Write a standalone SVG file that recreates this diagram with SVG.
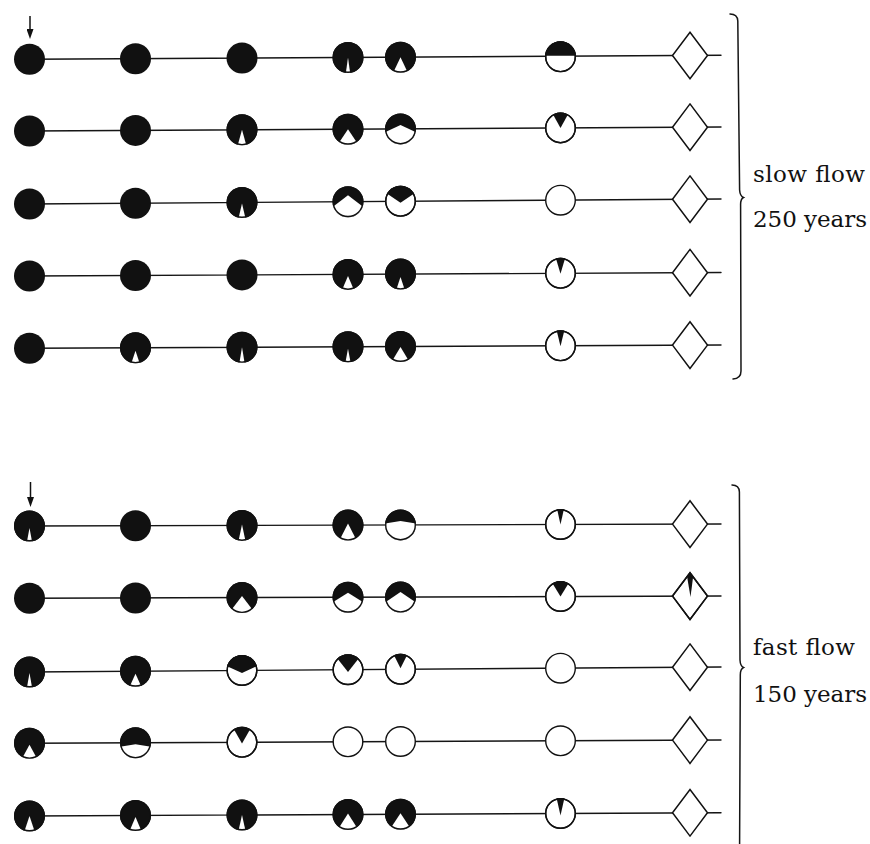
<svg xmlns="http://www.w3.org/2000/svg" width="870" height="844" viewBox="0 0 870 844">
<defs>
  <!-- disc used to trim the dark/light sectors inside each stage circle -->
  <clipPath id="disc"><circle r="15.5"/></clipPath>
  <clipPath id="lozenge"><polygon points="0,-23.3 17.5,0 0,23.3 -17.5,0"/></clipPath>
  <marker id="tip" viewBox="0 0 10 7" refX="0" refY="3.5" markerWidth="10" markerHeight="7" markerUnits="userSpaceOnUse" orient="auto">
    <path d="M0,0 L10,3.5 L0,7Z" fill="#111"/>
  </marker>
</defs>
<style>
  .wire{fill:none;stroke:#151515;stroke-width:1.4;stroke-linecap:round}
  .full{fill:#111}
  .open{fill:#fff;stroke:#111;stroke-width:1.4}
  .ink{fill:#111}
  .gap{fill:#fff}
  .edge{fill:none;stroke:#111;stroke-width:1.4}
  .dia{fill:#fff;stroke:#111;stroke-width:1.5}
  .diaedge{fill:none;stroke:#111;stroke-width:1.5}
  .brace{fill:none;stroke:#151515;stroke-width:1.5;stroke-linecap:round}
  .lbl{font-family:"DejaVu Serif","Liberation Serif",serif;font-size:23px;fill:#111}
  .arrow{stroke:#111;stroke-width:1.5;marker-end:url(#tip)}
</style>
<rect width="870" height="844" fill="#fff"/>

<!-- connectors: one straight line per sequence, plus the two start arrows -->
<g id="connectors">
  <line class="wire" x1="29.5" y1="59.3" x2="721" y2="55.3"/>
  <line class="wire" x1="29.5" y1="131" x2="721" y2="127"/>
  <line class="wire" x1="29.5" y1="204" x2="721" y2="199"/>
  <line class="wire" x1="29.5" y1="276" x2="721" y2="272.5"/>
  <line class="wire" x1="29.5" y1="348.3" x2="721" y2="345"/>
  <line class="wire" x1="29.5" y1="526" x2="721" y2="524"/>
  <line class="wire" x1="29.5" y1="598.3" x2="721" y2="596"/>
  <line class="wire" x1="29.5" y1="672" x2="721" y2="667"/>
  <line class="wire" x1="29.5" y1="743.3" x2="721" y2="740"/>
  <line class="wire" x1="29.5" y1="816" x2="721" y2="812.7"/>
  <line class="arrow" x1="30" y1="16" x2="30" y2="29"/>
  <line class="arrow" x1="30.5" y1="482" x2="30.5" y2="497"/>
</g>

<!-- slow flow, sequence 1 -->
<g id="slow1-a" transform="translate(29.5,59.3)"><circle class="full" r="15.5"/></g>
<g id="slow1-b" transform="translate(135.5,58.7)"><circle class="full" r="15.5"/></g>
<g id="slow1-c" transform="translate(242,58.1)"><circle class="full" r="15.5"/></g>
<g id="slow1-d" transform="translate(348,57.5)"><circle class="full" r="15.5"/><path class="gap" clip-path="url(#disc)" d="M-2.5 18L0 0L2.5 18Z"/><circle class="edge" r="14.8"/></g>
<g id="slow1-e" transform="translate(400.5,57.2)"><circle class="full" r="15.5"/><path class="gap" clip-path="url(#disc)" d="M-8.5 18L0 0L8.5 18Z"/><circle class="edge" r="14.8"/></g>
<g id="slow1-f" transform="translate(560.5,56.8)"><circle class="open" r="14.8"/><path class="ink" clip-path="url(#disc)" d="M-18 -18H18V-1H-18Z"/><circle class="edge" r="14.8"/></g>
<g id="slow1-end" transform="translate(690,55.5)"><polygon class="dia" points="0,-23.3 17.5,0 0,23.3 -17.5,0"/></g>

<!-- slow flow, sequence 2 -->
<g id="slow2-a" transform="translate(29.5,131)"><circle class="full" r="15.5"/></g>
<g id="slow2-b" transform="translate(135.5,130.4)"><circle class="full" r="15.5"/></g>
<g id="slow2-c" transform="translate(242,129.8)"><circle class="full" r="15.5"/><path class="gap" clip-path="url(#disc)" d="M-5 18L0 0L5 18Z"/><circle class="edge" r="14.8"/></g>
<g id="slow2-d" transform="translate(348,129.2)"><circle class="full" r="15.5"/><path class="gap" clip-path="url(#disc)" d="M-12 18L0 0L12 18Z"/><circle class="edge" r="14.8"/></g>
<g id="slow2-e" transform="translate(400.5,128.9)"><circle class="full" r="15.5"/><path class="gap" clip-path="url(#disc)" d="M-46 18L0 -4L46 18Z"/><circle class="edge" r="14.8"/></g>
<g id="slow2-f" transform="translate(560.5,127.9)"><circle class="open" r="14.8"/><path class="ink" clip-path="url(#disc)" d="M-10 -18L0 0L10 -18Z"/><circle class="edge" r="14.8"/></g>
<g id="slow2-end" transform="translate(690,127.2)"><polygon class="dia" points="0,-23.3 17.5,0 0,23.3 -17.5,0"/></g>

<!-- slow flow, sequence 3 -->
<g id="slow3-a" transform="translate(29.5,204)"><circle class="full" r="15.5"/></g>
<g id="slow3-b" transform="translate(135.5,203.2)"><circle class="full" r="15.5"/></g>
<g id="slow3-c" transform="translate(242,202.5)"><circle class="full" r="15.5"/><path class="gap" clip-path="url(#disc)" d="M-4 18L0 1L4 18Z"/><circle class="edge" r="14.8"/></g>
<g id="slow3-d" transform="translate(348,201.7)"><circle class="full" r="15.5"/><path class="gap" clip-path="url(#disc)" d="M-32 18L0 -6.5L32 18Z"/><circle class="edge" r="14.8"/></g>
<g id="slow3-e" transform="translate(400.5,201.3)"><circle class="open" r="14.8"/><path class="ink" clip-path="url(#disc)" d="M-28.5 -18L0 1.5L28.5 -18Z"/><circle class="edge" r="14.8"/></g>
<g id="slow3-f" transform="translate(560.5,200.2)"><circle class="open" r="14.8"/></g>
<g id="slow3-end" transform="translate(690,199.2)"><polygon class="dia" points="0,-23.3 17.5,0 0,23.3 -17.5,0"/></g>

<!-- slow flow, sequence 4 -->
<g id="slow4-a" transform="translate(29.5,276)"><circle class="full" r="15.5"/></g>
<g id="slow4-b" transform="translate(135.5,275.5)"><circle class="full" r="15.5"/></g>
<g id="slow4-c" transform="translate(242,274.9)"><circle class="full" r="15.5"/></g>
<g id="slow4-d" transform="translate(348,274.4)"><circle class="full" r="15.5"/><path class="gap" clip-path="url(#disc)" d="M-7 18L0 1.5L7 18Z"/><circle class="edge" r="14.8"/></g>
<g id="slow4-e" transform="translate(400.5,274.1)"><circle class="full" r="15.5"/><path class="gap" clip-path="url(#disc)" d="M-5 18L0 3L5 18Z"/><circle class="edge" r="14.8"/></g>
<g id="slow4-f" transform="translate(560.5,273.3)"><circle class="open" r="14.8"/><path class="ink" clip-path="url(#disc)" d="M-5.5 -18L0 0.5L5.5 -18Z"/><circle class="edge" r="14.8"/></g>
<g id="slow4-end" transform="translate(690,272.7)"><polygon class="dia" points="0,-23.3 17.5,0 0,23.3 -17.5,0"/></g>

<!-- slow flow, sequence 5 -->
<g id="slow5-a" transform="translate(29.5,348.3)"><circle class="full" r="15.5"/></g>
<g id="slow5-b" transform="translate(135.5,347.8)"><circle class="full" r="15.5"/><path class="gap" clip-path="url(#disc)" d="M-5 18L0 3L5 18Z"/><circle class="edge" r="14.8"/></g>
<g id="slow5-c" transform="translate(242,347.3)"><circle class="full" r="15.5"/><path class="gap" clip-path="url(#disc)" d="M-3 18L0 0L3 18Z"/><circle class="edge" r="14.8"/></g>
<g id="slow5-d" transform="translate(348,346.8)"><circle class="full" r="15.5"/><path class="gap" clip-path="url(#disc)" d="M-3 18L0 2L3 18Z"/><circle class="edge" r="14.8"/></g>
<g id="slow5-e" transform="translate(400.5,346.5)"><circle class="full" r="15.5"/><path class="gap" clip-path="url(#disc)" d="M-10.5 18L0 0.5L10.5 18Z"/><circle class="edge" r="14.8"/></g>
<g id="slow5-f" transform="translate(560.5,345.8)"><circle class="open" r="14.8"/><path class="ink" clip-path="url(#disc)" d="M-4.5 -18L0 0.5L4.5 -18Z"/><circle class="edge" r="14.8"/></g>
<g id="slow5-end" transform="translate(690,345.1)"><polygon class="dia" points="0,-23.3 17.5,0 0,23.3 -17.5,0"/></g>

<!-- fast flow, sequence 1 -->
<g id="fast1-a" transform="translate(29.5,526)"><circle class="full" r="15.5"/><path class="gap" clip-path="url(#disc)" d="M-3 18L0 2L3 18Z"/><circle class="edge" r="14.8"/></g>
<g id="fast1-b" transform="translate(135.5,525.7)"><circle class="full" r="15.5"/></g>
<g id="fast1-c" transform="translate(242,525.4)"><circle class="full" r="15.5"/><path class="gap" clip-path="url(#disc)" d="M-4 18L0 -1L4 18Z"/><circle class="edge" r="14.8"/></g>
<g id="fast1-d" transform="translate(348,525.1)"><circle class="full" r="15.5"/><path class="gap" clip-path="url(#disc)" d="M-10 18L0 -1.5L10 18Z"/><circle class="edge" r="14.8"/></g>
<g id="fast1-e" transform="translate(400.5,524.9)"><circle class="full" r="15.5"/><path class="gap" clip-path="url(#disc)" d="M-130 18L0 -4L130 18Z"/><circle class="edge" r="14.8"/></g>
<g id="fast1-f" transform="translate(560.5,524.5)"><circle class="open" r="14.8"/><path class="ink" clip-path="url(#disc)" d="M-4 -18L0 0L4 -18Z"/><circle class="edge" r="14.8"/></g>
<g id="fast1-end" transform="translate(690,524.1)"><polygon class="dia" points="0,-23.3 17.5,0 0,23.3 -17.5,0"/></g>

<!-- fast flow, sequence 2 -->
<g id="fast2-a" transform="translate(29.5,598.3)"><circle class="full" r="15.5"/></g>
<g id="fast2-b" transform="translate(135.5,598)"><circle class="full" r="15.5"/></g>
<g id="fast2-c" transform="translate(242,597.6)"><circle class="full" r="15.5"/><path class="gap" clip-path="url(#disc)" d="M-15 18L0 -1.5L15 18Z"/><circle class="edge" r="14.8"/></g>
<g id="fast2-d" transform="translate(348,597.2)"><circle class="full" r="15.5"/><path class="gap" clip-path="url(#disc)" d="M-36 18L0 -4.5L36 18Z"/><circle class="edge" r="14.8"/></g>
<g id="fast2-e" transform="translate(400.5,597.1)"><circle class="full" r="15.5"/><path class="gap" clip-path="url(#disc)" d="M-34 18L0 -5L34 18Z"/><circle class="edge" r="14.8"/></g>
<g id="fast2-f" transform="translate(560.5,596.5)"><circle class="open" r="14.8"/><path class="ink" clip-path="url(#disc)" d="M-11 -18L0 0L11 -18Z"/><circle class="edge" r="14.8"/></g>
<g id="fast2-end" transform="translate(690,596.1)"><polygon class="dia" points="0,-23.3 17.5,0 0,23.3 -17.5,0"/><path class="ink" clip-path="url(#lozenge)" d="M-4 -26L0.5 1L4 -26Z"/><polygon class="diaedge" points="0,-23.3 17.5,0 0,23.3 -17.5,0"/></g>

<!-- fast flow, sequence 3 -->
<g id="fast3-a" transform="translate(29.5,672)"><circle class="full" r="15.5"/><path class="gap" clip-path="url(#disc)" d="M-3 18L0 1L3 18Z"/><circle class="edge" r="14.8"/></g>
<g id="fast3-b" transform="translate(135.5,671.2)"><circle class="full" r="15.5"/><path class="gap" clip-path="url(#disc)" d="M-7 18L0 2.5L7 18Z"/><circle class="edge" r="14.8"/></g>
<g id="fast3-c" transform="translate(242,670.5)"><circle class="open" r="14.8"/><path class="ink" clip-path="url(#disc)" d="M-45 -18L0 2.5L45 -18Z"/><circle class="edge" r="14.8"/></g>
<g id="fast3-d" transform="translate(348,669.7)"><circle class="open" r="14.8"/><path class="ink" clip-path="url(#disc)" d="M-16 -18L0 2.3L16 -18Z"/><circle class="edge" r="14.8"/></g>
<g id="fast3-e" transform="translate(400.5,669.3)"><circle class="open" r="14.8"/><path class="ink" clip-path="url(#disc)" d="M-8.5 -18L0 -1L8.5 -18Z"/><circle class="edge" r="14.8"/></g>
<g id="fast3-f" transform="translate(560.5,668.2)"><circle class="open" r="14.8"/></g>
<g id="fast3-end" transform="translate(690,667.2)"><polygon class="dia" points="0,-23.3 17.5,0 0,23.3 -17.5,0"/></g>

<!-- fast flow, sequence 4 -->
<g id="fast4-a" transform="translate(29.5,743.3)"><circle class="full" r="15.5"/><path class="gap" clip-path="url(#disc)" d="M-9 18L0 1.5L9 18Z"/><circle class="edge" r="14.8"/></g>
<g id="fast4-b" transform="translate(135.5,742.8)"><circle class="full" r="15.5"/><path class="gap" clip-path="url(#disc)" d="M-105 18L0 1.5L105 18Z"/><circle class="edge" r="14.8"/></g>
<g id="fast4-c" transform="translate(242,742.3)"><circle class="open" r="14.8"/><path class="ink" clip-path="url(#disc)" d="M-11 -18L0 1.3L11 -18Z"/><circle class="edge" r="14.8"/></g>
<g id="fast4-d" transform="translate(348,741.8)"><circle class="open" r="14.8"/></g>
<g id="fast4-e" transform="translate(400.5,741.5)"><circle class="open" r="14.8"/></g>
<g id="fast4-f" transform="translate(560.5,740.8)"><circle class="open" r="14.8"/></g>
<g id="fast4-end" transform="translate(690,740.1)"><polygon class="dia" points="0,-23.3 17.5,0 0,23.3 -17.5,0"/></g>

<!-- fast flow, sequence 5 -->
<g id="fast5-a" transform="translate(29.5,816)"><circle class="full" r="15.5"/><path class="gap" clip-path="url(#disc)" d="M-6 18L0 0L6 18Z"/><circle class="edge" r="14.8"/></g>
<g id="fast5-b" transform="translate(135.5,815.5)"><circle class="full" r="15.5"/><path class="gap" clip-path="url(#disc)" d="M-7 18L0 1.5L7 18Z"/><circle class="edge" r="14.8"/></g>
<g id="fast5-c" transform="translate(242,815)"><circle class="full" r="15.5"/><path class="gap" clip-path="url(#disc)" d="M-4 18L0 0L4 18Z"/><circle class="edge" r="14.8"/></g>
<g id="fast5-d" transform="translate(348,814.5)"><circle class="full" r="15.5"/><path class="gap" clip-path="url(#disc)" d="M-12 18L0 -1L12 18Z"/><circle class="edge" r="14.8"/></g>
<g id="fast5-e" transform="translate(400.5,814.2)"><circle class="full" r="15.5"/><path class="gap" clip-path="url(#disc)" d="M-12.5 18L0 -1L12.5 18Z"/><circle class="edge" r="14.8"/></g>
<g id="fast5-f" transform="translate(560.5,813.5)"><circle class="open" r="14.8"/><path class="ink" clip-path="url(#disc)" d="M-4.5 -18L0 2L4.5 -18Z"/><circle class="edge" r="14.8"/></g>
<g id="fast5-end" transform="translate(690,812.8)"><polygon class="dia" points="0,-23.3 17.5,0 0,23.3 -17.5,0"/></g>

<!-- group braces and their labels -->
<g id="slow-group">
  <path class="brace" d="M730,14 Q737.5,14 737.8,21 L739.6,190 Q740,196 743.5,197.5 Q740.5,199 740.6,205 L741,371 Q741,378.5 733,379"/>
  <text class="lbl" x="753" y="182" textLength="112">slow flow</text>
  <text class="lbl" x="753" y="227" textLength="114">250 years</text>
</g>
<g id="fast-group">
  <path class="brace" d="M732,485 Q739.2,485 739.4,492 L740,660 Q740.3,666 743.5,667.5 Q740.3,669 740.3,675 L739.6,844"/>
  <text class="lbl" x="753" y="655" textLength="102">fast flow</text>
  <text class="lbl" x="753" y="702" textLength="114">150 years</text>
</g>
</svg>
